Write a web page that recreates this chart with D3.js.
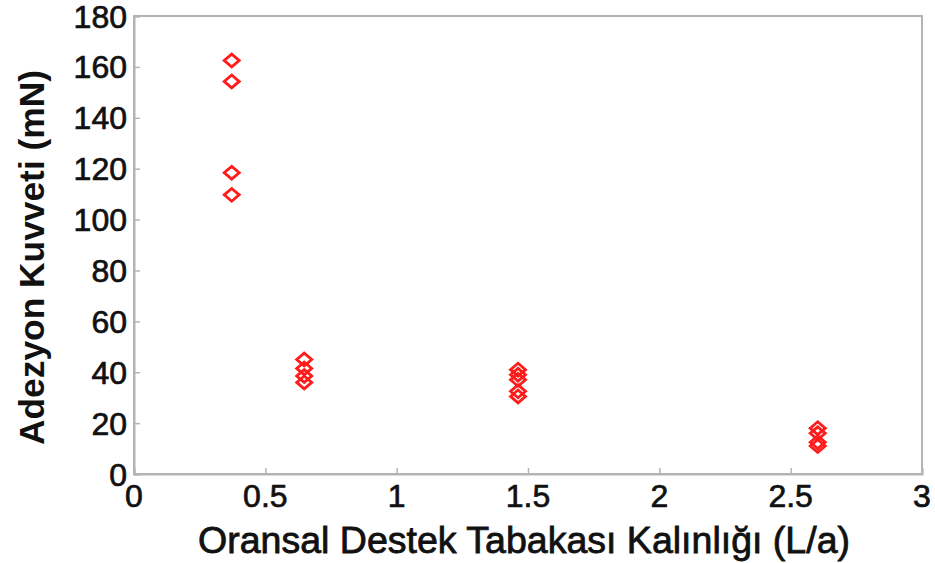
<!DOCTYPE html>
<html>
<head>
<meta charset="utf-8">
<script src="https://cdn.jsdelivr.net/npm/d3@7/dist/d3.min.js"></script>
<style>
  html, body { margin: 0; padding: 0; background: #fff; }
  svg { display: block; }
  text { font-family: "Liberation Sans", Arial, Helvetica, sans-serif; fill: #111; }
</style>
</head>
<body>
<svg id="chart" width="935" height="563"></svg>
<script>
// Relative support-layer thickness (L/a) for each measurement
const thickness = [
  0.372, 0.372, 0.372, 0.372,
  0.648, 0.648, 0.648, 0.648,
  1.462, 1.462, 1.462, 1.462, 1.462,
  2.603, 2.603, 2.603, 2.603
];
// Adhesion force (mN) for each measurement
const adhesion = [
  162.5, 154.3, 118.4, 109.7,
  45, 41.5, 38.5, 36,
  41, 39, 37, 32.5, 30.5,
  18, 16, 12.5, 11
];
const xTicks = [0, 0.5, 1, 1.5, 2, 2.5, 3];
const xTickLabels = ["0", "0.5", "1", "1.5", "2", "2.5", "3"];
const yTicks = [0, 20, 40, 60, 80, 100, 120, 140, 160, 180];
const yTickLabels = ["0", "20", "40", "60", "80", "100", "120", "140", "160", "180"];
const xTitle = "Oransal Destek Tabakası Kalınlığı (L/a)";
const yTitle = "Adezyon Kuvveti (mN)";

const svg = d3.select("#chart");
const plotLeft = 134, plotRight = 922, plotTop = 16, plotBottom = 474;

const x = d3.scaleLinear().domain([0, 3]).range([plotLeft, plotRight]);
const y = d3.scaleLinear().domain([0, 180]).range([plotBottom, plotTop]);

const axisColor = "#b4b4b4";

const defs = svg.append("defs");
defs.append("filter").attr("id", "soft")
  .append("feGaussianBlur").attr("stdDeviation", 0.55);

// Plot box
svg.append("rect")
  .attr("x", plotLeft).attr("y", plotTop)
  .attr("width", plotRight - plotLeft).attr("height", plotBottom - plotTop)
  .attr("fill", "none").attr("stroke", axisColor).attr("stroke-width", 2);

// Axes with inward ticks; labels drawn separately below
const xAxis = svg.append("g")
  .attr("transform", `translate(0,${plotBottom})`)
  .call(d3.axisBottom(x).tickValues(xTicks).tickSize(-6).tickFormat(""));
const yAxis = svg.append("g")
  .attr("transform", `translate(${plotLeft},0)`)
  .call(d3.axisLeft(y).tickValues(yTicks).tickSize(-6).tickFormat(""));
[xAxis, yAxis].forEach(g => {
  g.select(".domain").attr("stroke", axisColor).attr("stroke-width", 2);
  g.selectAll(".tick line").attr("stroke", axisColor).attr("stroke-width", 1.5);
});

// Tick labels
const tickFont = 32;
svg.append("g").selectAll("text")
  .data(xTicks)
  .join("text")
  .attr("x", d => x(d))
  .attr("y", plotBottom + 33)
  .attr("text-anchor", "middle")
  .attr("font-size", tickFont)
  .attr("stroke", "#111").attr("stroke-width", 0.7)
  .text((d, i) => xTickLabels[i]);

svg.append("g").selectAll("text")
  .data(yTicks)
  .join("text")
  .attr("x", plotLeft - 7)
  .attr("y", d => y(d))
  .attr("dy", "0.36em")
  .attr("text-anchor", "end")
  .attr("font-size", tickFont)
  .attr("stroke", "#111").attr("stroke-width", 0.7)
  .text((d, i) => yTickLabels[i]);

// Axis titles
svg.append("text")
  .attr("x", (198 + 850) / 2)
  .attr("y", 553)
  .attr("text-anchor", "middle")
  .attr("font-size", 37)
  .attr("textLength", 652)
  .attr("lengthAdjust", "spacingAndGlyphs")
  .attr("stroke", "#111").attr("stroke-width", 0.8)
  .text(xTitle);

svg.append("text")
  .attr("transform", `translate(44,${(70 + 445) / 2}) rotate(-90)`)
  .attr("text-anchor", "middle")
  .attr("font-size", 35)
  .attr("font-weight", "bold")
  .attr("textLength", 375)
  .attr("lengthAdjust", "spacingAndGlyphs")
  .text(yTitle);

// Diamond markers
const hw = 7.5, hh = 6.4;
const diamond = `M0,${-hh}L${hw},0L0,${hh}L${-hw},0Z`;
svg.append("g")
  .attr("filter", "url(#soft)")
  .selectAll("path")
  .data(thickness.map((t, i) => [t, adhesion[i]]))
  .join("path")
  .attr("transform", d => `translate(${x(d[0])},${y(d[1])})`)
  .attr("d", diamond)
  .attr("fill", "none")
  .attr("stroke", "#ff1a1a")
  .attr("stroke-width", 2.8)
  .attr("stroke-linejoin", "miter");
</script>
</body>
</html>
